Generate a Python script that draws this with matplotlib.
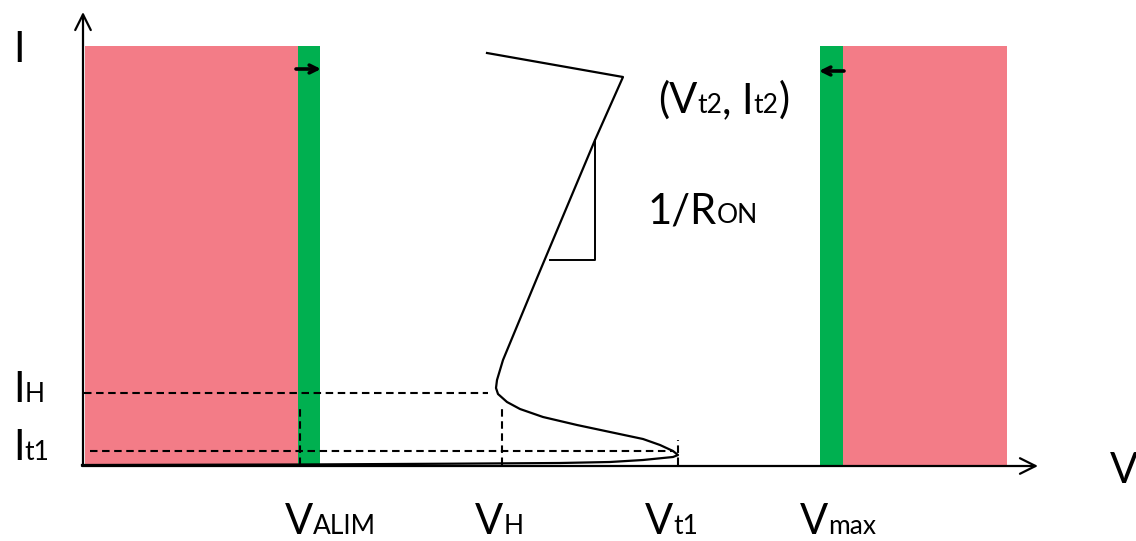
import matplotlib
matplotlib.use('Agg')
import matplotlib.pyplot as plt

plt.rcParams['font.family'] = ['Lato', 'DejaVu Sans']

# snapback I-V curve in drawing units (V to the right, I upwards)
curve_v = [405, 541, 513, 455, 421, 415, 414, 416, 425, 438, 461, 495, 528,
           561, 578, 591, 596, 591, 561, 528, 478, 368, 218, 0]
curve_i = [412, 388, 325, 187, 105, 85, 77, 71, 63, 56, 48, 40, 33,
           26, 20, 14, 10, 8, 5, 3, 2, 1.3, 0.5, 0]

# characteristic points
V_ALIM, V_H, V_T1 = 218, 420, 596
I_H, I_T1 = 72, 14

# forbidden zones (red) and design margins (green)
zone_top = 419
red_zones = [(3, 216), (761, 925)]
green_zones = [(216, 238), (738, 761)]

# slope triangle
tri_v = [468, 513, 513]
tri_i = [205, 205, 325]

RED = '#F37C87'
GREEN = '#00B050'
BIG, SMALL = 30, 19

fig = plt.figure(figsize=(11.36, 5.41), dpi=100)
ax = fig.add_axes([0, 0, 1, 1])
ax.set_xlim(-82, 1054)
ax.set_ylim(-76, 465)
ax.axis('off')

for a, b in red_zones:
    ax.bar(a, zone_top, width=b - a, align='edge', color=RED, lw=0, zorder=1)
for a, b in green_zones:
    ax.bar(a, zone_top, width=b - a, align='edge', color=GREEN, lw=0, zorder=1)

# arrows inside green margins
ax.annotate('', xy=(239, 396), xytext=(214, 396),
            arrowprops=dict(arrowstyle='->', lw=2.6, color='black',
                            mutation_scale=14, shrinkA=0, shrinkB=0), zorder=3)
ax.annotate('', xy=(737, 394), xytext=(762, 394),
            arrowprops=dict(arrowstyle='->', lw=2.6, color='black',
                            mutation_scale=14, shrinkA=0, shrinkB=0), zorder=3)

# axes with open arrow heads
arr = dict(arrowstyle='->', lw=1.6, color='black', mutation_scale=28,
           shrinkA=0, shrinkB=0)
ax.annotate('', xy=(1, 453), xytext=(1, 0), arrowprops=arr, zorder=4)
ax.annotate('', xy=(956, -1), xytext=(0, -1), arrowprops=arr, zorder=4)

# dashed guides
dash = dict(color='black', lw=1.5, ls=(0, (3.6, 2.2)), zorder=3)
ax.plot([2, 406], [I_H, I_H], **dash)
ax.plot([8, 591], [I_T1, I_T1], **dash)
ax.plot([V_ALIM, V_ALIM], [0, 58], **dash)
ax.plot([V_H, V_H], [0, 57], **dash)
ax.plot([V_T1, V_T1], [0, 25], **dash)

ax.plot(curve_v, curve_i, color='black', lw=1.6, solid_joinstyle='round', zorder=4)
ax.plot(tri_v, tri_i, color='black', lw=1.4, zorder=4)

fig.canvas.draw()
renderer = fig.canvas.get_renderer()


def rich_text(x, y, parts):
    for s, size in parts:
        t = ax.text(x, y, s, fontsize=size, va='baseline', ha='left', zorder=5)
        bb = t.get_window_extent(renderer)
        x = ax.transData.inverted().transform((bb.x1, bb.y0))[0]


rich_text(-69, 403, [('I', BIG)])
rich_text(-69, 63, [('I', BIG), ('H', SMALL)])
rich_text(-69, 5, [('I', BIG), ('t1', SMALL)])
rich_text(1028, -18, [('V', BIG)])
rich_text(203, -69, [('V', BIG), ('ALIM', SMALL)])
rich_text(393, -69, [('V', BIG), ('H', SMALL)])
rich_text(563, -69, [('V', BIG), ('t1', SMALL)])
rich_text(718, -69, [('V', BIG), ('max', SMALL)])
rich_text(576, 352, [('(V', BIG), ('t2', SMALL), (', I', BIG), ('t2', SMALL), (')', BIG)])
rich_text(566, 242, [('1/R', BIG), ('ON', SMALL)])

fig.savefig('out.png', dpi=100)
